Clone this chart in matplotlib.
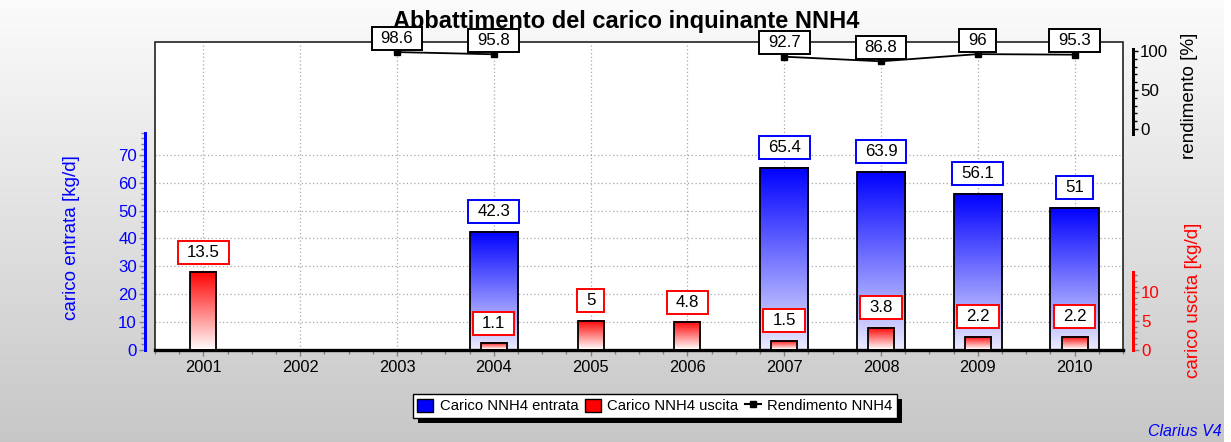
import numpy as np
import matplotlib
matplotlib.use('Agg')
import matplotlib.pyplot as plt
from matplotlib.patches import Rectangle, Patch
from matplotlib.lines import Line2D
from matplotlib.transforms import IdentityTransform
import matplotlib.ticker as mt

plt.rcParams['font.family'] = ['Liberation Sans', 'DejaVu Sans']

# ---------------- data ----------------
years = [2001, 2002, 2003, 2004, 2005, 2006, 2007, 2008, 2009, 2010]
entrata = [np.nan, np.nan, np.nan, 42.3, np.nan, np.nan, 65.4, 63.9, 56.1, 51.0]
uscita = [13.5, np.nan, np.nan, 1.1, 5.0, 4.8, 1.5, 3.8, 2.2, 2.2]
rendimento = [np.nan, np.nan, 98.6, 95.8, np.nan, np.nan, 92.7, 86.8, 96.0, 95.3]

title = 'Abbattimento del carico inquinante NNH4'
label_entrata = 'carico entrata [kg/d]'
label_uscita = 'carico uscita [kg/d]'
label_rend = 'rendimento [%]'
legend_labels = ['Carico NNH4 entrata', 'Carico NNH4 uscita', 'Rendimento NNH4']
blue_ticks = [0, 10, 20, 30, 40, 50, 60, 70]
red_ticks = [0, 5, 10]
black_ticks = [0, 50, 100]

# ---------------- layout ----------------
W, H = 1231, 442
fig = plt.figure(figsize=(W / 100, H / 100), dpi=100)


def fx(px):
    return px / W


def fy(py):
    return 1 - py / H


PT = 0.72  # points per pixel

# background gradient
bg = fig.add_axes([0, 0, 1, 1], zorder=-10)
g = np.linspace(0.985, 0.78, 256)[:, None]
bg.imshow(np.dstack([g, g, g]), aspect='auto', extent=[0, 1, 0, 1], origin='upper')
bg.add_patch(Rectangle((1224 / W, 0), 7 / W, 1, color='white', lw=0))
bg.set_xlim(0, 1)
bg.set_ylim(0, 1)
bg.axis('off')

L, R, T, B = 155, 1123, 42, 349.5
pos = [fx(L), fy(B), fx(R) - fx(L), fy(T) - fy(B)]

blue_ppu = 2.778
red_ppu = 5.72
blk_ppu = 0.78
blk_zero = 129

ax = fig.add_axes(pos, zorder=0)
axR = fig.add_axes(pos, zorder=1)
axK = fig.add_axes(pos, zorder=2)

xlim = (2000.5, 2010.5)
for a in (ax, axR, axK):
    a.set_xlim(*xlim)

ax.set_facecolor('white')
axR.patch.set_visible(False)
axK.patch.set_visible(False)

grid_color = '#a8a8a8'
for y in blue_ticks[1:]:
    ax.axhline(y, color=grid_color, lw=0.9, ls=(0, (1, 2)), zorder=0.5)
for x in years:
    ax.axvline(x, color=grid_color, lw=0.9, ls=(0, (1, 2)), zorder=0.5)


def grad_bar(a, x, h, w, top, bot):
    t = np.linspace(0, 1, 200)[:, None]
    top = np.array(top)
    bot = np.array(bot)
    img = top[None, None, :] * (1 - t[:, :, None]) + bot[None, None, :] * t[:, :, None]
    a.imshow(img, extent=[x - w / 2, x + w / 2, 0, h], aspect='auto', origin='upper',
             zorder=2, interpolation='bilinear')
    a.add_patch(Rectangle((x - w / 2, 0), w, h, fill=False, ec='black', lw=1.3, zorder=3))


labels = []
VFS = 12.2

# blue bars
for x, v in zip(years, entrata):
    if np.isnan(v):
        continue
    grad_bar(ax, x, v, 0.5, (0, 0, 1), (0.92, 0.92, 1))
    t = ax.annotate(f'{v:g}', (x, v), xytext=(0, 20 * PT), textcoords='offset points',
                    ha='center', va='center', fontsize=VFS, zorder=6, annotation_clip=False)
    labels.append((t, ax, 'blue'))

# red bars
for x, v in zip(years, uscita):
    if np.isnan(v):
        continue
    grad_bar(axR, x, v, 0.27, (1, 0, 0), (1, 0.98, 0.98))
    t = axR.annotate(f'{v:g}', (x, v), xytext=(0, 20 * PT), textcoords='offset points',
                     ha='center', va='center', fontsize=VFS, zorder=6, annotation_clip=False)
    labels.append((t, axR, 'red'))

# rendimento line
axK.plot(years, rendimento, color='black', lw=1.3, marker='s', ms=5, mfc='black',
         mec='black', zorder=4, clip_on=False)
for x, v in zip(years, rendimento):
    if np.isnan(v):
        continue
    t = axK.annotate(f'{v:g}', (x, v), xytext=(0, 14 * PT), textcoords='offset points',
                     ha='center', va='center', fontsize=VFS, zorder=6, annotation_clip=False)
    labels.append((t, axK, 'black'))

# limits
ax.set_ylim(0, (B - T) / blue_ppu)
axR.set_ylim(0, (B - T) / red_ppu)
axK.set_ylim(-(B - blk_zero) / blk_ppu, (blk_zero - T) / blk_ppu)

# frame
ax.add_patch(Rectangle((0, 0), 1, 1, transform=ax.transAxes, fill=False, ec='#222222',
                       lw=1.2, zorder=2.5, clip_on=False))

# spines
for a in (ax, axR, axK):
    for s in a.spines.values():
        s.set_visible(False)

ax.spines['bottom'].set_visible(True)
ax.spines['bottom'].set_linewidth(2.4)
ax.spines['bottom'].set_color('black')
ax.spines['bottom'].set_zorder(5)

ax.spines['left'].set_visible(True)
ax.spines['left'].set_position(('outward', 10 * PT))
ax.spines['left'].set_bounds(0, 78)
ax.spines['left'].set_color('blue')
ax.spines['left'].set_linewidth(3 * PT)
ax.set_yticks(blue_ticks)
ax.yaxis.set_minor_locator(mt.FixedLocator([v for v in np.arange(0, 78.1, 2) if v % 10]))
ax.tick_params(axis='y', which='major', colors='#808080', labelcolor='blue', length=6 * PT,
               width=1, labelsize=12.2, pad=1.5)
ax.tick_params(axis='y', which='minor', colors='#808080', length=4 * PT, width=1)

ax.set_xticks(years)
ax.set_xticklabels([str(y) for y in years])
ax.xaxis.set_minor_locator(mt.FixedLocator([x for x in np.arange(2000.5, 2010.51, 0.25) if x % 1]))
ax.tick_params(axis='x', which='major', colors='#808080', labelcolor='black', length=6 * PT,
               width=1, labelsize=11.8, pad=3.5)
ax.tick_params(axis='x', which='minor', colors='#808080', length=4 * PT, width=1)

axR.xaxis.set_visible(False)
axK.xaxis.set_visible(False)

axR.yaxis.tick_right()
axR.spines['right'].set_visible(True)
axR.spines['right'].set_position(('outward', 10 * PT))
axR.spines['right'].set_bounds(0, 13.6)
axR.spines['right'].set_color('red')
axR.spines['right'].set_linewidth(3 * PT)
axR.set_yticks(red_ticks)
axR.yaxis.set_minor_locator(mt.FixedLocator([v for v in range(0, 14) if v % 5]))
axR.tick_params(axis='y', which='major', colors='#808080', labelcolor='red', length=6 * PT,
                width=1, labelsize=12.2, pad=1.5)
axR.tick_params(axis='y', which='minor', colors='#808080', length=4 * PT, width=1)

axK.yaxis.tick_right()
axK.spines['right'].set_visible(True)
axK.spines['right'].set_position(('outward', 10 * PT))
axK.spines['right'].set_bounds(-6.5, 102.5)
axK.spines['right'].set_color('black')
axK.spines['right'].set_linewidth(3 * PT)
axK.set_yticks(black_ticks)
axK.yaxis.set_minor_locator(mt.FixedLocator([v for v in range(0, 101, 10) if v % 50]))
axK.tick_params(axis='y', which='major', colors='black', labelcolor='black', length=5 * PT,
                width=1, labelsize=12.2, pad=1.5)
axK.tick_params(axis='y', which='minor', colors='black', length=4 * PT, width=1)

# texts
fig.text(fx(626), fy(28), title, ha='center', va='baseline', fontsize=17,
         fontweight='bold', zorder=-5)
fig.text(fx(71), fy(238), label_entrata, rotation=90, ha='center', va='center',
         color='blue', fontsize=13.6)
fig.text(fx(1193), fy(300), label_uscita, rotation=90, ha='center', va='center',
         color='red', fontsize=13.6)
fig.text(fx(1189), fy(96), label_rend, rotation=90, ha='center', va='center',
         color='black', fontsize=13.6)
fig.text(fx(1222), fy(431), 'Clarius V4', ha='right', va='center', color='blue',
         style='italic', fontsize=11.5)

handles = [Patch(fc='blue', ec='black', lw=1), Patch(fc='red', ec='black', lw=1),
           Line2D([], [], color='black', marker='s', ms=5, lw=1.5)]
leg = fig.legend(handles, legend_labels, loc='center', bbox_to_anchor=(fx(655), fy(406)),
                 ncol=3, frameon=True, fancybox=False, edgecolor='black', framealpha=1,
                 fontsize=10.7, handlelength=1.05, handleheight=1.0, handletextpad=0.45,
                 columnspacing=0.45, borderpad=0.3)
leg.get_frame().set_linewidth(1)

# second pass: boxes around value labels and legend shadow
fig.canvas.draw()
rend = fig.canvas.get_renderer()
for t, a, col in labels:
    bb = t.get_window_extent(rend)
    cy = (bb.y0 + bb.y1) / 2
    rect = Rectangle((bb.x0 - 9, cy - 11.5), bb.width + 18, 23, transform=IdentityTransform(),
                     fc='white', ec=col, lw=1.4, zorder=5.5, clip_on=False)
    a.add_patch(rect)

lb = leg.get_window_extent(rend)
fig.add_artist(Rectangle((lb.x0 + 5, lb.y0 - 5), lb.width, lb.height, transform=IdentityTransform(),
                         fc='black', ec='none', zorder=leg.get_zorder() - 0.1))

fig.savefig('out.png', dpi=100)
